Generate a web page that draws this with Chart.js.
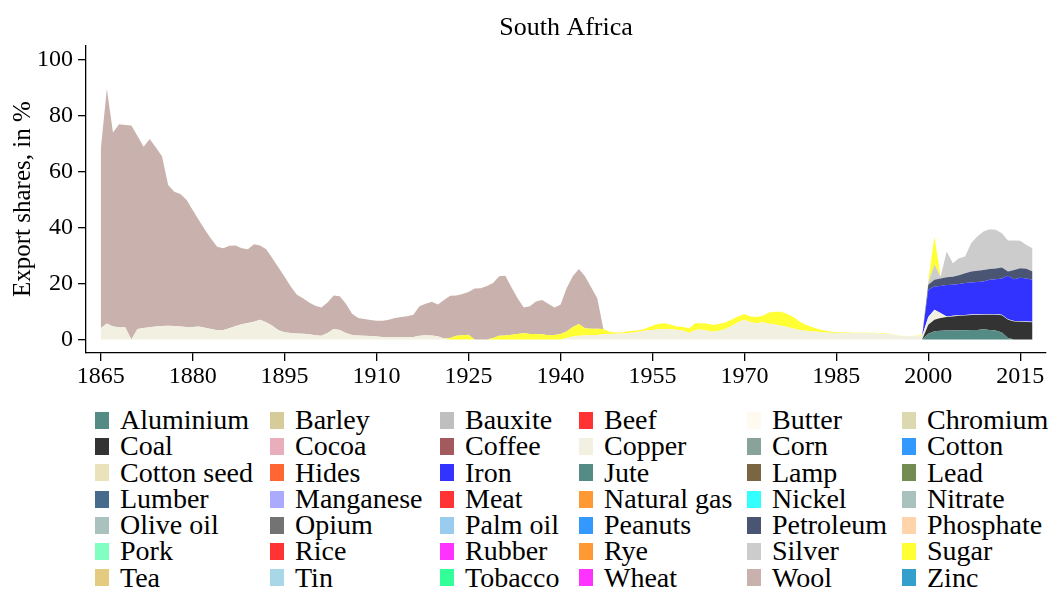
<!DOCTYPE html>
<html>
<head>
<meta charset="utf-8">
<title>South Africa export shares</title>
<script src="https://cdn.jsdelivr.net/npm/chart.js@4.4.1/dist/chart.umd.min.js"></script>
<style>
  body { margin: 0; background: #fff; }
  #wrap { position: relative; width: 1059px; height: 590px; }
  #legend {
    position: absolute; left: 95px; top: 407px;
    display: grid;
    grid-template-columns: 175px 170px 139px 168px 155px 157px;
    grid-auto-rows: 26.3px;
    font-family: "Liberation Serif", serif; font-size: 28px; color: #000;
  }
  .item { display: flex; align-items: center; white-space: nowrap; line-height: 26.3px; }
  .sw { width: 14px; height: 17px; margin-right: 11px; flex: none; }
</style>
</head>
<body>
<div id="wrap">
  <canvas id="chart" width="1059" height="400"></canvas>
  <div id="legend"></div>
</div>
<script>
const firstYear = 1865;
const lastYear = 2017;
const xTicks = [1865, 1880, 1895, 1910, 1925, 1940, 1955, 1970, 1985, 2000, 2015];
const yTicks = [0, 20, 40, 60, 80, 100];

// legend entries, row by row
const legendNames = [
  "Aluminium", "Barley", "Bauxite", "Beef", "Butter", "Chromium",
  "Coal", "Cocoa", "Coffee", "Copper", "Corn", "Cotton",
  "Cotton seed", "Hides", "Iron", "Jute", "Lamp", "Lead",
  "Lumber", "Manganese", "Meat", "Natural gas", "Nickel", "Nitrate",
  "Olive oil", "Opium", "Palm oil", "Peanuts", "Petroleum", "Phosphate",
  "Pork", "Rice", "Rubber", "Rye", "Silver", "Sugar",
  "Tea", "Tin", "Tobacco", "Wheat", "Wool", "Zinc"
];
const legendColors = [
  "#548b84", "#d6cc99", "#bfbfbf", "#ff3333", "#fffaf0", "#dcd8b0",
  "#333333", "#e8aebc", "#a35a5f", "#f1f0e1", "#8aa39a", "#3399ff",
  "#ebe2ba", "#ff6633", "#3333ff", "#548b84", "#7a6642", "#738c52",
  "#476b8c", "#aaaaff", "#ff3333", "#ff9933", "#33ffff", "#aac2be",
  "#aac2be", "#737373", "#99ccee", "#3399ff", "#4a5574", "#ffd4aa",
  "#80ffc0", "#ff3333", "#ff33ff", "#ff9933", "#cccccc", "#ffff33",
  "#e3cc80", "#a8d8e8", "#33ff99", "#ff33ff", "#c9b2ad", "#339fcc"
];

// export shares in %, one value per year from the given start year
const woolStart = 1865;
const wool = [
  63.6, 83.8, 69.2, 72.5, 72.2, 76.3, 68.9, 64.7, 67.2, 63.9,
  60.6, 50.2, 47.9, 47.3, 45.4, 41.8, 38.0, 34.9, 32.2, 29.8,
  29.1, 29.4, 28.7, 27.1, 26.3, 27.7, 26.5, 26.1, 24.1, 22.4,
  19.8, 16.6, 13.8, 12.7, 11.4, 10.5, 10.1, 10.9, 12.0, 12.0,
  10.4, 7.6, 6.2, 6.0, 5.7, 5.7, 5.8, 6.1, 6.7, 7.1,
  7.5, 7.9, 10.5, 11.2, 12.0, 11.4, 13.8, 15.1, 14.4, 14.7,
  15.2, 18.2, 18.3, 19.1, 19.6, 21.2, 21.3, 16.9, 12.8, 9.1,
  9.9, 11.6, 12.3, 11.2, 9.8, 10.5, 15.5, 18.1, 19.6, 18.5,
  14.8, 10.9, 0
];

const copperStart = 1865;
const copper = [
  4.0, 5.7, 4.6, 4.3, 4.3, 0, 3.7, 4.1, 4.3, 4.6,
  4.8, 4.9, 4.8, 4.6, 4.4, 4.4, 4.6, 4.2, 3.7, 3.3,
  3.4, 4.0, 4.8, 5.4, 5.9, 6.3, 7.0, 6.1, 4.9, 3.3,
  2.6, 2.3, 2.1, 2.0, 1.8, 1.5, 1.3, 2.3, 3.7, 3.4,
  2.3, 1.6, 1.4, 1.3, 1.2, 1.0, 0.9, 0.9, 0.9, 0.9,
  0.8, 0.9, 1.3, 1.5, 1.4, 1.1, 0.3, 0, 0, 0,
  0, 0, 0, 0, 0, 0, 0, 0, 0, 0,
  0, 0, 0, 0, 0, 0, 0.5, 1.0, 1.3, 1.4,
  1.5, 1.6, 1.8, 1.9, 2.0, 2.1, 2.3, 2.5, 2.8, 3.2,
  3.4, 3.6, 3.7, 3.7, 3.4, 3.1, 2.3, 3.4, 3.5, 3.1,
  2.7, 3.2, 3.8, 4.9, 6.1, 7.0, 6.1, 5.8, 6.1, 5.6,
  5.3, 4.9, 4.4, 3.9, 3.4, 3.1, 2.8, 2.7, 2.5, 2.4,
  2.3, 2.3, 2.3, 2.2, 2.2, 2.2, 2.2, 2.0, 1.9, 1.8,
  1.3, 1.1, 1.1, 1.1, 1.3, 2.8, 3.6, 1.8, 0.2, 0.2,
  0.2, 0.2, 0.2, 0.2, 0.2, 0.2, 0.2, 0.2, 0.2, 0.2,
  0.2, 0.2, 0.2
];

const sugarStart = 1922;
const sugar = [
  0.5, 1.3, 1.5, 1.7, 0, 0, 0, 0.5, 1.3, 1.4,
  1.7, 1.9, 2.3, 1.9, 1.9, 1.8, 1.5, 1.6, 1.9, 2.3,
  3.4, 4.2, 2.6, 2.3, 2.2, 1.9, 0.8, 0.5, 0.4, 0.6,
  0.6, 0.6, 0.8, 1.5, 2.0, 2.1, 1.5, 1.2, 1.3, 1.7,
  2.4, 2.3, 2.5, 2.4, 2.4, 2.3, 2.3, 2.1, 2.1, 2.1,
  2.2, 2.3, 4.0, 4.6, 5.0, 4.7, 4.1, 3.0, 2.1, 1.6,
  1.0, 0.7, 0.4, 0.3, 0.2, 0.2, 0.2, 0.2, 0.2, 0.2,
  0.2, 0.2, 0.1, 0.1, 0.1, 0.1, 0.2, 0.2, 0.6, 10.0,
  0, 0, 0, 0, 0, 0, 0, 0, 0, 0,
  0, 0, 0, 0, 0, 0
];

// 2000 to 2017
const recentStart = 2000;
const aluminium = [2.0, 2.9, 3.1, 3.2, 3.2, 3.3, 3.3, 3.4, 3.4, 3.6, 3.4, 3.2, 2.5, 0.5, 0, 0, 0, 0];
const coal = [3.2, 4.1, 4.5, 4.8, 5.0, 5.1, 5.2, 5.3, 5.3, 5.2, 5.4, 5.6, 6.1, 6.5, 6.4, 6.3, 6.2, 6.1];
const iron = [9.7, 8.3, 9.7, 11.2, 11.1, 11.2, 11.4, 11.4, 11.6, 11.7, 12.3, 12.5, 12.9, 15.5, 14.9, 15.5, 15.3, 15.0];
const petroleum = [1.8, 2.4, 2.6, 2.8, 2.9, 3.1, 3.5, 3.9, 4.0, 4.1, 3.8, 3.8, 4.0, 1.5, 3.3, 3.4, 3.5, 2.9];
const silver = [0.8, 5.4, 0.7, 9.2, 4.8, 6.1, 6.0, 10.2, 12.2, 13.7, 14.2, 13.8, 12.2, 11.1, 10.5, 9.8, 8.5, 8.3];

const years = [];
for (let y = firstYear; y <= lastYear; y++) years.push(y);

// zero outside the years a series covers
function padSeries(values, start) {
  return years.map(y => (y >= start && y - start < values.length) ? values[y - start] : 0);
}

// stacked bottom to top, alphabetical like the legend
const stackOrder = [
  ["Aluminium", aluminium, recentStart],
  ["Coal", coal, recentStart],
  ["Copper", copper, copperStart],
  ["Iron", iron, recentStart],
  ["Petroleum", petroleum, recentStart],
  ["Silver", silver, recentStart],
  ["Sugar", sugar, sugarStart],
  ["Wool", wool, woolStart]
];

const datasets = stackOrder.map(([name, values, start], i) => ({
  label: name,
  data: padSeries(values, start),
  backgroundColor: legendColors[legendNames.indexOf(name)],
  borderColor: "transparent",
  borderWidth: 0,
  pointRadius: 0,
  tension: 0,
  fill: i === 0 ? "origin" : "-1"
}));

const serif = "'Liberation Serif', serif";

new Chart(document.getElementById("chart"), {
  type: "line",
  data: { labels: years, datasets: datasets },
  options: {
    responsive: false,
    animation: false,
    layout: { padding: { left: 0, right: 13, top: 0, bottom: 0 } },
    plugins: {
      legend: { display: false },
      tooltip: { enabled: false },
      title: {
        display: true,
        text: "South Africa",
        fullSize: false,
        color: "#000",
        font: { family: serif, size: 26, weight: "normal" },
        padding: { top: 13, bottom: 1 }
      }
    },
    scales: {
      x: {
        type: "linear",
        min: 1862.6,
        max: 2019.2,
        afterBuildTicks: s => { s.ticks = xTicks.map(v => ({ value: v })); },
        afterFit: s => { s.height = 47; },
        grid: { drawOnChartArea: false, drawTicks: true, tickLength: 8, color: "#000", lineWidth: 1.3 },
        border: { color: "#000", width: 1.3 },
        ticks: {
          color: "#000", font: { family: serif, size: 24 }, padding: 1,
          maxRotation: 0, autoSkip: false, callback: v => String(v)
        }
      },
      y: {
        stacked: true,
        min: -4.85,
        max: 105,
        afterBuildTicks: s => { s.ticks = yTicks.map(v => ({ value: v })); },
        afterFit: s => { s.width = 86; },
        grid: { drawOnChartArea: false, drawTicks: true, tickLength: 8, color: "#000", lineWidth: 1.3 },
        border: { color: "#000", width: 1.3 },
        ticks: { color: "#000", font: { family: serif, size: 24 }, padding: 5, callback: v => String(v) },
        title: {
          display: true,
          text: "Export shares, in %",
          color: "#000",
          font: { family: serif, size: 25 },
          padding: { top: 8, bottom: 0 }
        }
      }
    }
  }
});

// legend grid, six columns
const legendEl = document.getElementById("legend");
legendNames.forEach((name, i) => {
  const item = document.createElement("div");
  item.className = "item";
  const sw = document.createElement("span");
  sw.className = "sw";
  sw.style.background = legendColors[i];
  item.appendChild(sw);
  item.appendChild(document.createTextNode(name));
  legendEl.appendChild(item);
});
</script>
</body>
</html>
